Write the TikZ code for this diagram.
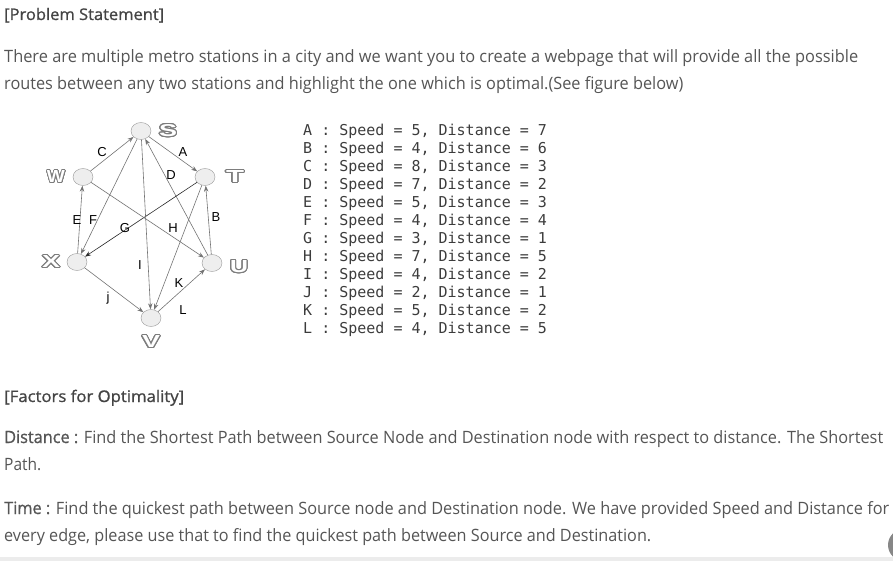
\documentclass[tikz,border=0pt]{standalone}
\usepackage{fontspec}
\setmainfont{Open Sans}
\newfontfamily\monofont{DejaVu Sans Mono}
\newfontfamily\labelfont{Liberation Sans}
\newfontfamily\semib[FakeBold=1]{Open Sans}
\usepackage{graphicx}
\usepackage[copies]{contour}
\contourlength{0.45pt}
\contournumber{24}
\usetikzlibrary{shapes.geometric,arrows.meta}
\definecolor{bodytext}{RGB}{85,85,85}
\definecolor{headtext}{RGB}{68,68,68}
\definecolor{tabletext}{RGB}{60,60,60}
\definecolor{stationfill}{RGB}{238,238,238}
\definecolor{stationedge}{RGB}{150,150,150}
\definecolor{letteredge}{RGB}{125,125,125}
\definecolor{routegray}{RGB}{115,115,115}
\definecolor{routedark}{RGB}{40,40,40}
\definecolor{footgray}{RGB}{236,236,236}
\definecolor{knobgray}{RGB}{135,135,135}
% stretch one line of text to a measured width
\newcommand{\fitline}[2]{\resizebox{#1}{\height}{#2}}
% hollow station letters
\newcommand{\hollow}[1]{\resizebox{18pt}{12pt}{\bfseries\contour{letteredge}{\textcolor{white}{#1}}}}

\begin{document}
\begin{tikzpicture}[x=1pt,y=-1pt,
  station/.style={ellipse,draw=stationedge,fill=stationfill,minimum width=20pt,minimum height=17pt,inner sep=0pt},
  stationname/.style={inner sep=0pt,font=\labelfont},
  route/.style={draw=routegray,line width=0.6pt,-{Stealth[length=6pt,width=4.4pt]}},
  routelabel/.style={inner sep=0pt,font=\labelfont\fontsize{13}{13}\selectfont},
  textline/.style={anchor=base west,inner sep=0pt,text=bodytext,font=\fontsize{17}{17}\selectfont},
  headline/.style={textline,text=headtext,font=\semib\fontsize{16}{16}\selectfont},
  tablerow/.style={anchor=base west,inner sep=0pt,text=tabletext,font=\monofont\fontsize{15}{15}\selectfont}]
\useasboundingbox (0,0) rectangle (893,561);

% page text
\node[headline] (head1) at (4,20) {\fitline{160pt}{[Problem Statement]}};
\node[textline] (para1) at (4,63) {\fitline{854pt}{There are multiple metro stations in a city and we want you to create a webpage that will provide all the possible}};
\node[textline] (para2) at (4,90) {\fitline{679pt}{routes between any two stations and highlight the one which is optimal.(See figure below)}};
\node[headline] (head2) at (4,402) {\fitline{180pt}{[Factors for Optimality]}};
\node[textline] (dist1) at (4,443) {\fitline{879pt}{{\semib Distance :} Find the Shortest Path between Source Node and Destination node with respect to distance. The Shortest}};
\node[textline] (dist2) at (4,470) {\fitline{37pt}{Path.}};
\node[textline] (time1) at (4,514) {\fitline{885pt}{{\semib Time :} Find the quickest path between Source node and Destination node. We have provided Speed and Distance for}};
\node[textline] (time2) at (4,541) {\fitline{647pt}{every edge, please use that to find the quickest path between Source and Destination.}};

% stations
\node[station] (S) at (141,131) {};
\node[station] (W) at (83,177) {};
\node[station] (T) at (205,177) {};
\node[station] (X) at (77,262) {};
\node[station] (U) at (212,263) {};
\node[station] (V) at (151,318) {};

\node[stationname] (nameS) at (168,131) {\hollow{S}};
\node[stationname] (nameW) at (56,177) {\hollow{W}};
\node[stationname] (nameT) at (235,177) {\hollow{T}};
\node[stationname] (nameX) at (51,262) {\hollow{X}};
\node[stationname] (nameU) at (239,267) {\hollow{U}};
\node[stationname] (nameV) at (151,342) {\hollow{V}};

% routes
\draw[route] (W) -- (S);
\draw[route] (S) -- (T);
\draw[route] (U) -- (S);
\draw[route] (U) -- (T);
\draw[route] (X) -- (W);
\draw[route] (S) -- (X);
\draw[route,draw=routedark] (T) -- (X);
\draw[route] (W) -- (U);
\draw[route] (S) -- (V);
\draw[route] (X) -- (V);
\draw[route] (T) -- (V);
\draw[route] (V) -- (U);

\node[routelabel] (labC) at (102,152) {C};
\node[routelabel] (labA) at (183,152) {A};
\node[routelabel] (labD) at (171,175) {D};
\node[routelabel] (labB) at (216,217) {B};
\node[routelabel] (labE) at (77,220) {E};
\node[routelabel] (labF) at (93,220) {F};
\node[routelabel] (labG) at (125,228) {G};
\node[routelabel] (labH) at (173,228) {H};
\node[routelabel] (labI) at (140,265) {I};
\node[routelabel] (labj) at (108,298) {j};
\node[routelabel] (labK) at (179,283) {K};
\node[routelabel] (labL) at (183,310) {L};

% speed and distance table
\foreach \edgename/\spd/\dst [count=\i from 0] in {A/5/7,B/4/6,C/8/3,D/7/2,E/5/3,F/4/4,G/3/1,H/7/5,I/4/2,J/2/1,K/5/2,L/4/5}
  \node[tablerow] (row\edgename) at (303,{135.5+18*\i}) {\edgename{} : Speed = \spd, Distance = \dst};

% page footer
\fill[footgray] (0,557) rectangle (893,561);
\fill[knobgray] (904,545) circle (16);
\end{tikzpicture}
\end{document}
